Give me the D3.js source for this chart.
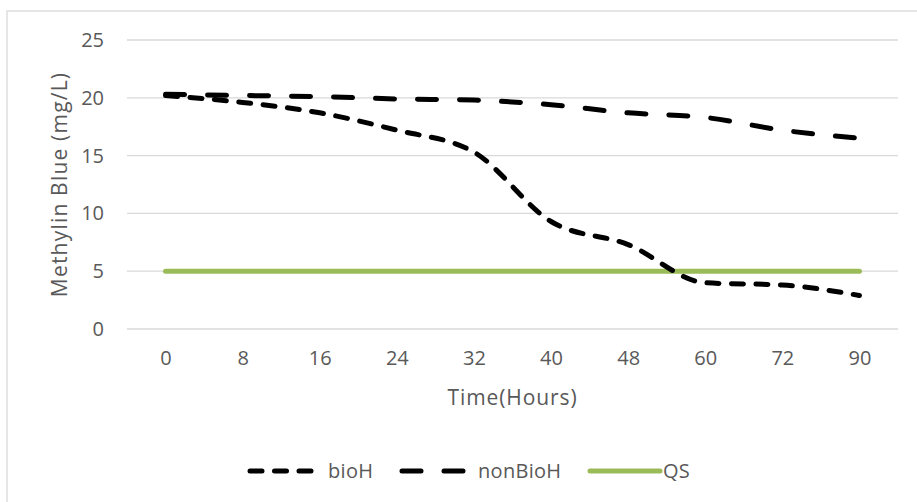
<!DOCTYPE html>
<html>
<head>
<meta charset="utf-8">
<script src="https://cdn.jsdelivr.net/npm/d3@7"></script>
<style>
  html, body { margin: 0; padding: 0; background: #fff; }
  svg { display: block; }
  text { font-family: "Open Sans", "Noto Sans", sans-serif; fill: #595959; }
</style>
</head>
<body>
<svg id="chart" width="917" height="502"></svg>
<script>
// Sampling times (hours) used as category labels
const times = ["0", "8", "16", "24", "32", "40", "48", "60", "72", "90"];
// Methylene blue concentration (mg/L)
const bioH    = [20.2, 19.6, 18.7, 17.2, 15.3, 9.3, 7.3, 4.0, 3.8, 2.9];
const nonBioH = [20.3, 20.2, 20.1, 19.9, 19.8, 19.4, 18.7, 18.3, 17.2, 16.5];
// Quality standard limit
const QS      = [5, 5, 5, 5, 5, 5, 5, 5, 5, 5];
const yTicks  = [0, 5, 10, 15, 20, 25];

const svg = d3.select("#chart");
const W = 917, H = 502;
const plot = { left: 127, right: 898, top: 40, bottom: 329 };

// Chart area frame
svg.append("rect")
  .attr("x", 7).attr("y", 11)
  .attr("width", W + 10).attr("height", H + 10)
  .attr("fill", "#fff").attr("stroke", "#d9d9d9").attr("stroke-width", 1.3);

const x = d3.scalePoint().domain(times).range([plot.left, plot.right]).padding(0.5);
const y = d3.scaleLinear().domain([0, 25]).range([plot.bottom, plot.top]);

// Horizontal gridlines
svg.append("g")
  .selectAll("line").data(yTicks).join("line")
  .attr("x1", plot.left).attr("x2", plot.right)
  .attr("y1", d => y(d)).attr("y2", d => y(d))
  .attr("stroke", "#d9d9d9").attr("stroke-width", 1.3);

// Y axis labels
const yAxis = svg.append("g")
  .attr("transform", `translate(${plot.left},0)`)
  .call(d3.axisLeft(y).tickValues(yTicks).tickSize(0).tickPadding(23));
yAxis.select(".domain").remove();
yAxis.selectAll("text").attr("font-size", 20).attr("fill", "#595959")
  .style("font-family", '"Open Sans", sans-serif');

// X axis labels
const xAxis = svg.append("g")
  .attr("transform", `translate(0,${plot.bottom})`)
  .call(d3.axisBottom(x).tickSize(0).tickPadding(22));
xAxis.select(".domain").remove();
xAxis.selectAll("text").attr("font-size", 20).attr("fill", "#595959")
  .style("font-family", '"Open Sans", sans-serif');

// Axis titles
svg.append("text")
  .attr("x", (plot.left + plot.right) / 2).attr("y", 405)
  .attr("text-anchor", "middle").attr("font-size", 21)
  .attr("letter-spacing", 0.9)
  .text("Time(Hours)");
svg.append("text")
  .attr("transform", `translate(67,${(plot.top + plot.bottom) / 2}) rotate(-90)`)
  .attr("text-anchor", "middle").attr("font-size", 21)
  .attr("letter-spacing", 1.2)
  .text("Methylin Blue (mg/L)");

const series = [
  { name: "bioH",    values: bioH,    color: "#000", width: 5,   dash: "12,12.5" },
  { name: "nonBioH", values: nonBioH, color: "#000", width: 5,   dash: "19,23" },
  { name: "QS",      values: QS,      color: "#9bbb59", width: 5, dash: null }
];

const line = d3.line()
  .x((d, i) => x(times[i]))
  .y(d => y(d))
  .curve(d3.curveMonotoneX);

// Draw QS first so the dashed series sit on top
[series[2], series[1], series[0]].forEach(s => {
  svg.append("path")
    .datum(s.values)
    .attr("d", line)
    .attr("fill", "none")
    .attr("stroke", s.color)
    .attr("stroke-width", s.width)
    .attr("stroke-linecap", "round")
    .attr("stroke-linejoin", "round")
    .attr("stroke-dasharray", s.dash);
});

// Legend
const legendItems = [
  { s: series[0], x0: 250, x1: 318, tx: 328 },
  { s: series[1], x0: 402, x1: 468, tx: 478 },
  { s: series[2], x0: 590, x1: 660, tx: 663 }
];
const lg = svg.append("g");
legendItems.forEach(it => {
  lg.append("line")
    .attr("x1", it.x0).attr("x2", it.x1)
    .attr("y1", 471).attr("y2", 471)
    .attr("stroke", it.s.color).attr("stroke-width", it.s.width)
    .attr("stroke-linecap", "round")
    .attr("stroke-dasharray", it.s.dash);
  lg.append("text")
    .attr("x", it.tx).attr("y", 478)
    .attr("font-size", 20)
    .attr("letter-spacing", 0.3)
    .text(it.s.name);
});
</script>
</body>
</html>
